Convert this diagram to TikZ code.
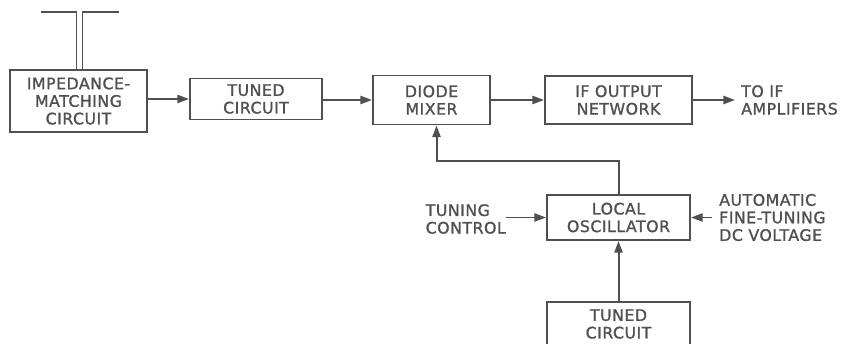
\documentclass[tikz,border=0pt]{standalone}
\usepackage{fontspec}
\setmainfont[LetterSpace=3, FakeBold=1.2]{DejaVu Sans}
\usepackage{tikz}
\usetikzlibrary{arrows.meta, positioning, calc}
\definecolor{ink}{RGB}{80,80,80}

\begin{document}
\begin{tikzpicture}[x=0.03cm, y=-0.03cm,
    blk/.style={draw=ink, line width=1.7pt, align=center, inner sep=0pt,
                font=\fontsize{13.5}{15}\selectfont, text=ink},
    lbl/.style={align=left, inner sep=0pt, font=\fontsize{13.5}{15}\selectfont, text=ink},
    arr/.style={draw=ink, line width=1.7pt, -{Triangle[length=10pt,width=7pt]}}]
  \clip (0,0) rectangle (846,344);
  \node[blk, minimum width=4.11cm, minimum height=1.86cm] (imp) at (78.5,101)
       {IMPEDANCE-\\MATCHING\\CIRCUIT};
  \node[blk, minimum width=3.96cm, minimum height=1.23cm] (tunA) at (256,99)
       {TUNED\\CIRCUIT};
  \node[blk, minimum width=3.51cm, minimum height=1.47cm] (mix) at (431.5,100)
       {DIODE\\MIXER};
  \node[blk, minimum width=4.41cm, minimum height=1.44cm] (ifnet) at (618.5,100)
       {IF OUTPUT\\NETWORK};
  \node[blk, minimum width=4.29cm, minimum height=1.35cm] (osc) at (618.5,217.5)
       {LOCAL\\OSCILLATOR};
  \node[blk, minimum width=4.29cm, minimum height=1.32cm] (tunB) at (618.5,324)
       {TUNED\\CIRCUIT};
  \node[lbl, anchor=west] (toif) at (741,100) {TO IF\\AMPLIFIERS};
  \node[lbl, anchor=east] (tctl) at (506,219) {TUNING\\CONTROL};
  \node[lbl, anchor=west] (aft) at (719,217.5) {AUTOMATIC\\FINE-TUNING\\DC VOLTAGE};
  \coordinate (ant) at ([xshift=0.03cm]imp.north);
  \draw[ink, line width=1.7pt] ($(ant)+(-3,0)$) -- ++(0,-57) -- ++(-36,0);
  \draw[ink, line width=1.7pt] ($(ant)+(3,0)$) -- ++(0,-57) -- ++(36,0);
  \draw[arr] (imp.east |- tunA) -- (tunA.west);
  \draw[arr] (tunA.east |- mix) -- (mix.west);
  \draw[arr] (mix) -- (ifnet.west);
  \draw[arr] (ifnet.east) -- (toif.west -| 735,0);
  \draw[arr] (osc.north) -- ++(0,-33) -| ([xshift=0.15cm]mix.south);
  \draw[arr] (tctl.east |- osc) -- (osc.west);
  \draw[arr] (aft.west -| 712,0) -- (osc.east);
  \draw[arr] (tunB) -- (osc.south);
\end{tikzpicture}
\end{document}
